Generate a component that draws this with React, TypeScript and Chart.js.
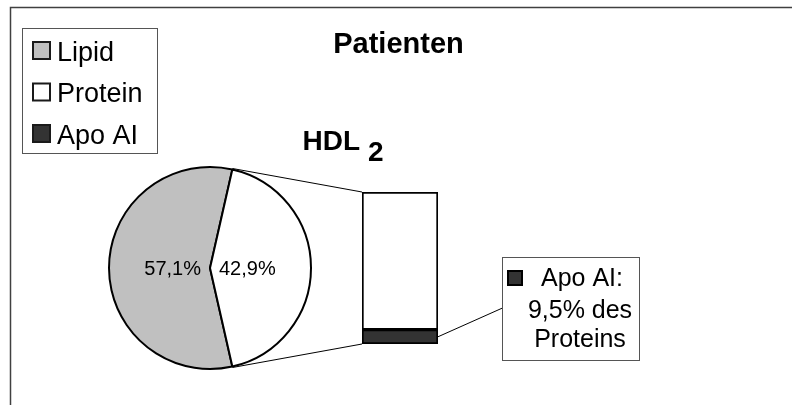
import React, { useEffect, useRef } from "react";
import { Chart, registerables } from "chart.js";

Chart.register(...registerables);

// ---- data ----
const pieLabels = ["Lipid", "Protein"];
const pieValues = [57.1, 42.9];
const barCategories = ["Protein"];
const apoValues = [9.5];
const restValues = [90.5];
const legendLabels = ["Lipid", "Protein", "Apo AI"];
const chartTitle = "Patienten";
const subTitleMain = "HDL";
const subTitleSub = "2";
const annotationLines = ["Apo AI:", "9,5% des", "Proteins"];

// ---- styles ----
const FONT = "'Liberation Sans', Arial, Helvetica, sans-serif";
const LIPID_COLOR = "#c0c0c0";
const PROTEIN_COLOR = "#ffffff";
const APO_COLOR = "#333333";
const legendColors = [LIPID_COLOR, PROTEIN_COLOR, APO_COLOR];

const fmtPct = (v: number) => v.toFixed(1).replace(".", ",") + "%";

export default function App() {
  const pieRef = useRef<HTMLCanvasElement | null>(null);
  const barRef = useRef<HTMLCanvasElement | null>(null);

  useEffect(() => {
    if (!pieRef.current || !barRef.current) return;
    const total = pieValues.reduce((a, b) => a + b, 0);
    const rotation = 90 + (pieValues[1] / total) * 180;

    const pieLabelPlugin = {
      id: "pieLabels",
      afterDatasetsDraw(chart: any) {
        const ctx = chart.ctx as CanvasRenderingContext2D;
        const meta = chart.getDatasetMeta(0);
        ctx.save();
        ctx.font = `20px ${FONT}`;
        ctx.fillStyle = "#000";
        ctx.textAlign = "center";
        ctx.textBaseline = "alphabetic";
        meta.data.forEach((arc: any, i: number) => {
          const txt = fmtPct(pieValues[i]);
          const w = ctx.measureText(txt).width;
          const mid = (arc.startAngle + arc.endAngle) / 2;
          const d = w / 2 + 9;
          const x = arc.x + Math.cos(mid) * d;
          const y = arc.y + Math.sin(mid) * d;
          ctx.fillText(txt, x, y + 7.2);
        });
        ctx.restore();
      },
    };

    const pieChart = new Chart(pieRef.current, {
      type: "pie",
      data: {
        labels: pieLabels,
        datasets: [
          {
            data: pieValues,
            backgroundColor: [LIPID_COLOR, PROTEIN_COLOR],
            borderColor: "#000000",
            borderWidth: 2,
          },
        ],
      },
      options: {
        responsive: false,
        animation: false,
        rotation,
        radius: 101,
        events: [],
        layout: { padding: { left: 0, right: 372, top: 131, bottom: 0 } },
        plugins: {
          legend: { display: false },
          tooltip: { enabled: false },
          title: { display: false },
        },
      } as any,
      plugins: [pieLabelPlugin],
    });

    const overlayPlugin = {
      id: "overlay",
      afterDraw(chart: any) {
        const ctx = chart.ctx as CanvasRenderingContext2D;
        ctx.save();

        // outer frame
        ctx.strokeStyle = "#404040";
        ctx.lineWidth = 1.5;
        ctx.beginPath();
        ctx.moveTo(10.5, 420);
        ctx.lineTo(10.5, 7.5);
        ctx.lineTo(800, 7.5);
        ctx.stroke();

        // legend box
        ctx.fillStyle = "#fff";
        ctx.fillRect(22, 28, 135, 125);
        ctx.lineWidth = 1;
        ctx.strokeStyle = "#555";
        ctx.strokeRect(22.5, 28.5, 135, 125);
        const baselines = [60.5, 102, 143.5];
        ctx.font = `27px ${FONT}`;
        ctx.textAlign = "left";
        ctx.textBaseline = "alphabetic";
        legendLabels.forEach((lab, i) => {
          const top = baselines[i] - 19.5;
          ctx.fillStyle = legendColors[i];
          ctx.fillRect(32, top, 19, 19);
          ctx.lineWidth = 2;
          ctx.strokeStyle = "#1a1a1a";
          ctx.strokeRect(33, top + 1, 17, 17);
          ctx.fillStyle = "#000";
          ctx.fillText(lab, 57, baselines[i]);
        });

        // title
        ctx.font = `bold 29px ${FONT}`;
        ctx.textAlign = "center";
        ctx.fillStyle = "#000";
        ctx.fillText(chartTitle, 398.5, 52.5);

        // HDL 2
        ctx.textAlign = "left";
        ctx.font = `bold 28px ${FONT}`;
        ctx.fillText(subTitleMain, 302.5, 150);
        ctx.fillText(subTitleSub, 368, 161);

        // connector lines pie -> bar
        const arcMeta = pieChart.getDatasetMeta(0);
        const protArc: any = arcMeta.data[1];
        const apoEl: any = chart.getDatasetMeta(0).data[0];
        const restEl: any = chart.getDatasetMeta(1).data[0];
        const r = protArc.outerRadius + 1;
        const p1x = protArc.x + Math.cos(protArc.startAngle) * r;
        const p1y = protArc.y + Math.sin(protArc.startAngle) * r;
        const p2x = protArc.x + Math.cos(protArc.endAngle) * r;
        const p2y = protArc.y + Math.sin(protArc.endAngle) * r;
        const barLeft = restEl.x - restEl.width / 2;
        const barTop = Math.min(restEl.y, restEl.base);
        const barBottom = Math.max(apoEl.y, apoEl.base);
        ctx.strokeStyle = "#000";
        ctx.lineWidth = 1;
        ctx.beginPath();
        ctx.moveTo(p1x, p1y);
        ctx.lineTo(barLeft, barTop);
        ctx.moveTo(p2x, p2y);
        ctx.lineTo(barLeft, barBottom);
        ctx.stroke();

        // annotation box
        const boxX = 502.5, boxY = 257.5, boxW = 137, boxH = 103;
        const apoRight = apoEl.x + apoEl.width / 2;
        const apoMid = (apoEl.y + apoEl.base) / 2;
        ctx.beginPath();
        ctx.moveTo(apoRight, apoMid);
        ctx.lineTo(boxX, 308);
        ctx.stroke();
        ctx.fillStyle = "#fff";
        ctx.fillRect(boxX, boxY, boxW, boxH);
        ctx.strokeStyle = "#555";
        ctx.strokeRect(boxX, boxY, boxW, boxH);
        ctx.fillStyle = APO_COLOR;
        ctx.fillRect(507, 270, 16, 16);
        ctx.lineWidth = 2;
        ctx.strokeStyle = "#000";
        ctx.strokeRect(508, 271, 14, 14);
        ctx.font = `25px ${FONT}`;
        ctx.fillStyle = "#000";
        const annBase = [286, 318, 347];
        annotationLines.forEach((t, i) => {
          ctx.textAlign = "center";
          ctx.fillText(t, i === 0 ? 582 : 580, annBase[i]);
        });

        ctx.restore();
      },
    };

    const barChart = new Chart(barRef.current, {
      type: "bar",
      data: {
        labels: barCategories,
        datasets: [
          {
            label: "Apo AI",
            data: apoValues,
            backgroundColor: APO_COLOR,
            borderColor: "#000000",
            borderWidth: 2,
            borderSkipped: false,
            barPercentage: 1,
            categoryPercentage: 1,
          },
          {
            label: "Rest",
            data: restValues,
            backgroundColor: PROTEIN_COLOR,
            borderColor: "#000000",
            borderWidth: 2,
            borderSkipped: false,
            barPercentage: 1,
            categoryPercentage: 1,
          },
        ],
      },
      options: {
        responsive: false,
        animation: false,
        events: [],
        layout: { padding: { left: 362, right: 354, top: 192, bottom: 61 } },
        scales: {
          x: { stacked: true, display: false },
          y: { stacked: true, display: false, min: 0, max: 100 },
        },
        plugins: {
          legend: { display: false },
          tooltip: { enabled: false },
          title: { display: false },
        },
      } as any,
      plugins: [overlayPlugin],
    });

    return () => {
      barChart.destroy();
      pieChart.destroy();
    };
  }, []);

  const canvasStyle: React.CSSProperties = {
    position: "absolute",
    left: 0,
    top: 0,
    width: 792,
    height: 405,
    display: "block",
  };

  return (
    <div
      style={{
        position: "fixed",
        left: 0,
        top: 0,
        width: 792,
        height: 405,
        background: "#ffffff",
        overflow: "hidden",
      }}
    >
      <canvas ref={pieRef} width={792} height={405} style={canvasStyle} />
      <canvas ref={barRef} width={792} height={405} style={canvasStyle} />
    </div>
  );
}
